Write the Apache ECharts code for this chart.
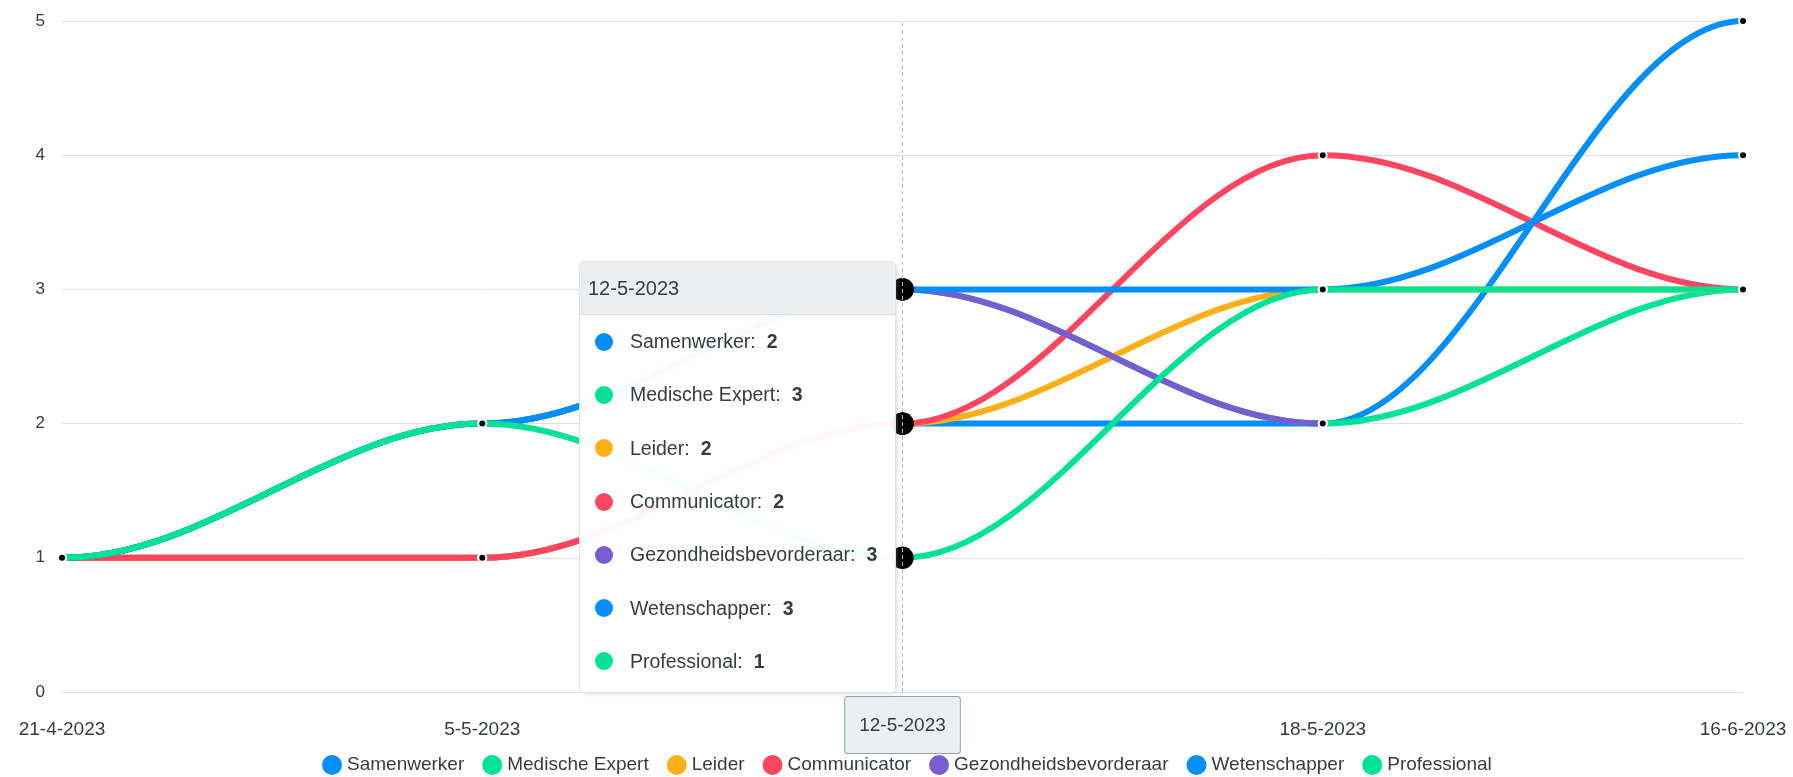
<!DOCTYPE html>
<html>
<head>
<meta charset="utf-8">
<title>Competenties</title>
<script src="https://cdn.jsdelivr.net/npm/echarts@6/dist/echarts.min.js"></script>
<style>
  html, body { margin: 0; padding: 0; background: #fff; }
  #chart { width: 1793px; height: 777px; }
</style>
</head>
<body>
<div id="chart"></div>
<script>
// meetmomenten
const dates = ['21-4-2023', '5-5-2023', '12-5-2023', '18-5-2023', '16-6-2023'];

// scores per competentie
const samenwerker = [1, 1, 2, 2, 5];
const medischeExpert = [1, 2, 3, 2, 3];
const leider = [1, 1, 2, 3, 3];
const communicator = [1, 1, 2, 4, 3];
const gezondheidsbevorderaar = [1, 2, 3, 2, null];
const wetenschapper = [1, 2, 3, 3, 4];
const professional = [1, 2, 1, 3, 3];

const seriesNames = ['Samenwerker', 'Medische Expert', 'Leider', 'Communicator', 'Gezondheidsbevorderaar', 'Wetenschapper', 'Professional'];
const seriesData = [samenwerker, medischeExpert, leider, communicator, gezondheidsbevorderaar, wetenschapper, professional];
const colors = ['#008FFB', '#00E396', '#FEB019', '#FF4560', '#775DD0', '#008FFB', '#00E396'];

const hoverIndex = 2; // 12-5-2023
const textColor = '#373d3f';
const fontFamily = 'Liberation Sans, Arial, Helvetica, sans-serif';

const chart = echarts.init(document.getElementById('chart'));

// segmenten [x-index, y begin, y eind] voor de vloeiende lijnen
function toSegments(values) {
  const segs = [];
  for (let i = 0; i < values.length - 1; i++) {
    if (values[i] != null && values[i + 1] != null) {
      segs.push([i, values[i], values[i + 1]]);
    }
  }
  return segs;
}

// lijn: bezier met horizontale raaklijnen in elk punt
function lineSeries(i) {
  return {
    name: seriesNames[i],
    type: 'custom',
    silent: true,
    emphasis: { disabled: true },
    tooltip: { show: false },
    encode: { x: 0, y: 1 },
    data: toSegments(seriesData[i]),
    renderItem: function (params, api) {
      const p0 = api.coord([api.value(0), api.value(1)]);
      const p1 = api.coord([api.value(0) + 1, api.value(2)]);
      const c = (p1[0] - p0[0]) * 0.35;
      return {
        type: 'bezierCurve',
        shape: {
          x1: p0[0], y1: p0[1],
          cpx1: p0[0] + c, cpy1: p0[1],
          cpx2: p1[0] - c, cpy2: p1[1],
          x2: p1[0], y2: p1[1]
        },
        style: { stroke: colors[i], lineWidth: 6, fill: null, lineCap: 'round' }
      };
    }
  };
}

// punten + tooltip
function pointSeries(i) {
  return {
    name: seriesNames[i],
    type: 'line',
    data: seriesData[i],
    symbol: 'circle',
    symbolSize: 8,
    showSymbol: true,
    lineStyle: { opacity: 0 },
    itemStyle: { color: '#000', borderColor: '#fff', borderWidth: 2 },
    emphasis: {
      focus: 'none',
      scale: 2.8,
      lineStyle: { opacity: 0 },
      itemStyle: { color: '#000', borderColor: '#000', borderWidth: 0 }
    }
  };
}

const series = [];
seriesNames.forEach(function (n, i) { series.push(lineSeries(i)); });
seriesNames.forEach(function (n, i) { series.push(pointSeries(i)); });

const option = {
  animation: false,
  textStyle: { fontFamily: fontFamily },
  grid: {
    left: 62,
    right: 50,
    top: 21,
    bottom: 85
  },
  legend: {
    top: 750,
    left: 317,
    icon: 'circle',
    itemWidth: 20,
    itemHeight: 20,
    itemGap: 18,
    textStyle: { color: textColor, fontSize: 19, fontFamily: fontFamily },
    data: seriesNames.map(function (n, i) {
      return { name: n, itemStyle: { color: colors[i], borderWidth: 0 } };
    })
  },
  tooltip: {
    trigger: 'axis',
    alwaysShowContent: true,
    padding: 0,
    borderWidth: 1,
    borderColor: '#e3e3e3',
    borderRadius: 5,
    backgroundColor: 'rgba(255,255,255,0.96)',
    extraCssText: 'box-shadow: 2px 2px 6px -4px #999; overflow:hidden;',
    axisPointer: {
      type: 'line',
      lineStyle: { color: '#b6b6b6', width: 1, type: [4, 3] },
      label: {
        show: true,
        margin: 5,
        padding: [19, 14, 18, 14],
        color: textColor,
        fontSize: 19,
        fontFamily: fontFamily,
        backgroundColor: '#eceff1',
        borderColor: '#90a4ae',
        borderWidth: 1,
        borderRadius: 2,
        shadowBlur: 0
      }
    },
    position: function (point, params, dom, rect, size) {
      const x = chart.convertToPixel({ xAxisIndex: 0 }, dates[hoverIndex]);
      const y = chart.convertToPixel({ yAxisIndex: 0 }, 3);
      return [x - size.contentSize[0] - 7, y - 28];
    },
    formatter: function (params) {
      params = params.filter(function (p) { return p.seriesType === 'line'; });
      let html = '<div style="width:315px;font-family:' + fontFamily + ';color:' + textColor + ';font-size:19.5px;padding-bottom:4px;">';
      html += '<div style="background:#eceff1;border-bottom:1px solid #ddd;height:52px;line-height:52px;padding-left:8px;font-size:20px;">' + params[0].axisValue + '</div>';
      params.forEach(function (p) {
        const c = colors[seriesNames.indexOf(p.seriesName)];
        html += '<div style="height:53.3px;display:flex;align-items:center;padding-left:15px;">' +
          '<span style="display:inline-block;width:18px;height:18px;border-radius:50%;background:' + c + ';margin-right:17px;"></span>' +
          '<span>' + p.seriesName + ':</span>' +
          '<b style="margin-left:11px;">' + p.value + '</b></div>';
      });
      html += '</div>';
      return html;
    }
  },
  xAxis: {
    type: 'category',
    boundaryGap: false,
    data: dates,
    axisLine: { lineStyle: { color: '#e0e0e0' } },
    axisTick: { show: false },
    axisLabel: { color: textColor, fontSize: 19, margin: 28 },
    splitLine: { show: false }
  },
  yAxis: {
    type: 'value',
    min: 0,
    max: 5,
    interval: 1,
    axisLine: { show: false },
    axisTick: { show: false },
    axisLabel: { color: textColor, fontSize: 17, margin: 17 },
    splitLine: { lineStyle: { color: '#e0e0e0' } }
  },
  series: series
};

chart.setOption(option);
chart.dispatchAction({ type: 'showTip', seriesIndex: 7, dataIndex: hoverIndex });
</script>
</body>
</html>
